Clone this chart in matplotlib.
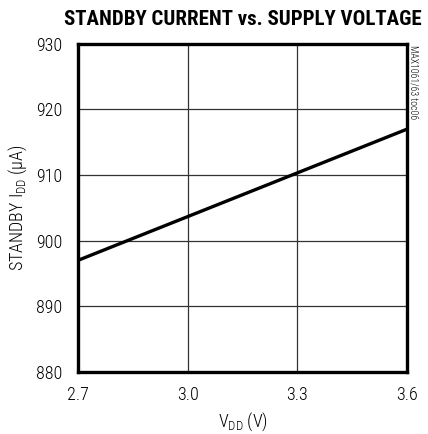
import numpy as np
import matplotlib
matplotlib.use("Agg")
import matplotlib.pyplot as plt

plt.rcParams['font.family'] = ['Roboto Condensed', 'DejaVu Sans']
plt.rcParams['mathtext.fontset'] = 'custom'
plt.rcParams['mathtext.rm'] = 'Roboto Condensed:light'
plt.rcParams['mathtext.it'] = 'Roboto Condensed:light'

# data
vdd = [2.7, 3.6]
i_standby = [897, 917]
x_ticks = [2.7, 3.0, 3.3, 3.6]
x_labels = ['2.7', '3.0', '3.3', '3.6']
y_ticks = [880, 890, 900, 910, 920, 930]

fig = plt.figure(figsize=(4.28, 4.34), dpi=100)
ax = fig.add_axes([0.182, 0.143, 0.769, 0.756])

ax.plot(vdd, i_standby, color='black', lw=2.4, solid_capstyle='butt')

ax.set_xlim(2.7, 3.6)
ax.set_ylim(880, 930)
ax.set_xticks(x_ticks)
ax.set_xticklabels(x_labels)
ax.set_yticks(y_ticks)
ax.grid(True, color='#333333', lw=0.9)
ax.tick_params(length=0, labelsize=13)
ax.tick_params(axis='y', pad=11)
ax.tick_params(axis='x', pad=10)
for lab in ax.get_xticklabels() + ax.get_yticklabels():
    lab.set_fontweight('light')
for s in ax.spines.values():
    s.set_linewidth(2.4)

ax.set_xlabel(r'V$_{\rm DD}$ (V)', fontsize=13, labelpad=5, fontweight='light')
ax.set_ylabel(r'STANDBY I$_{\rm DD}$ (µA)', fontsize=13, labelpad=5, fontweight='light')
fig.text(0.567, 0.955, 'STANDBY CURRENT vs. SUPPLY VOLTAGE', ha='center', va='center',
         fontsize=15, fontweight='heavy')
fig.text(0.965, 0.897, 'MAX1061/63 toc06', rotation=270, ha='center', va='top',
         fontsize=7, fontweight='light')

fig.savefig('out.png', dpi=100)
